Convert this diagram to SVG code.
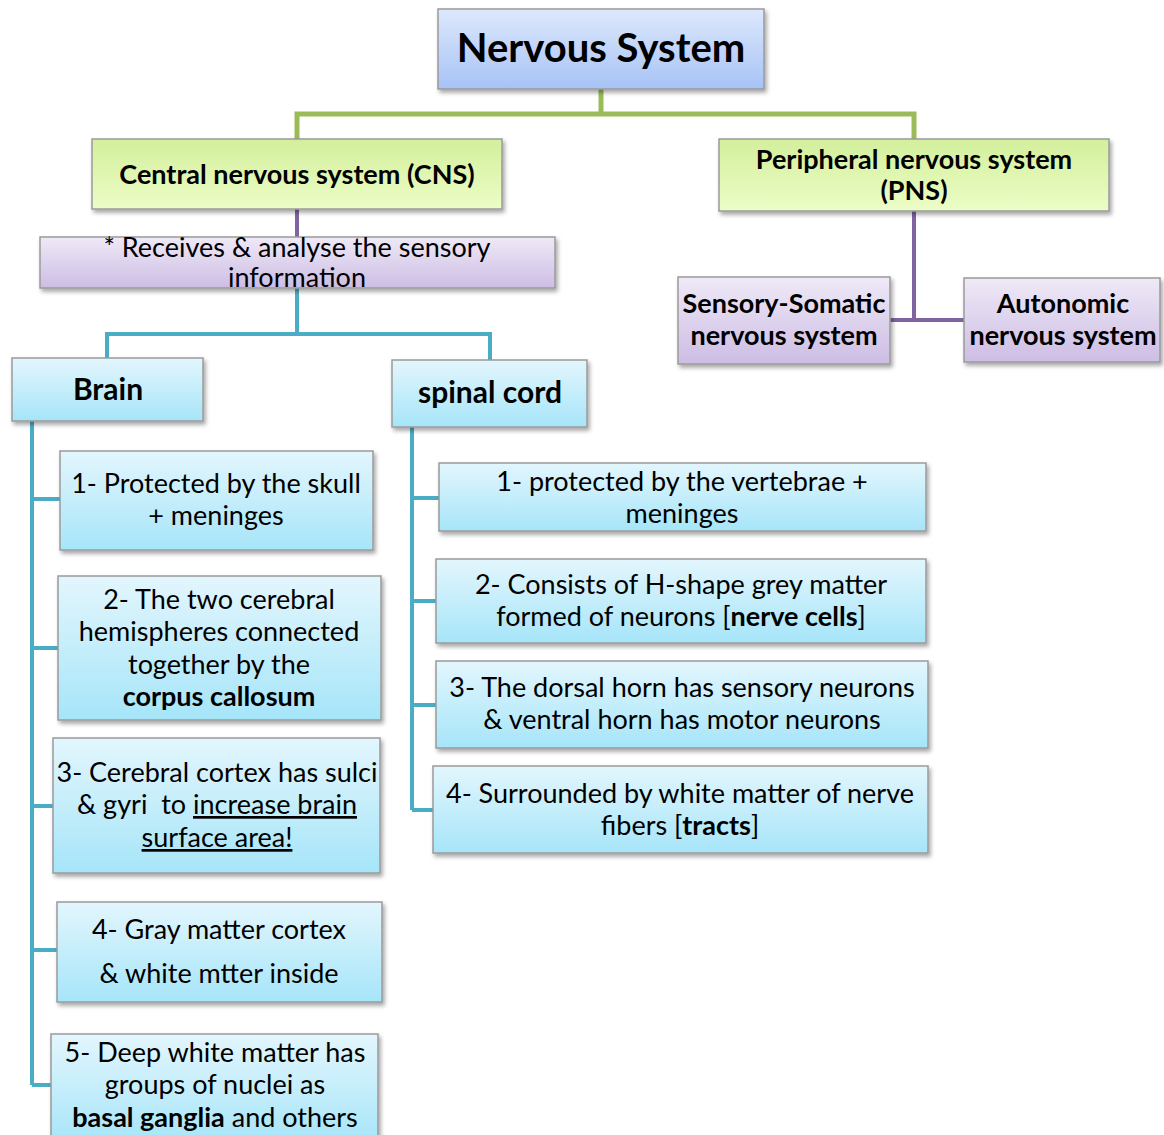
<svg xmlns="http://www.w3.org/2000/svg" width="1164" height="1135" viewBox="0 0 1164 1135">
<style>
text{font-family:Lato,"Open Sans","Liberation Sans",sans-serif;fill:#000;text-anchor:middle}
.t{font-size:27px}
.b{font-weight:bold}
.box{stroke:#9a9a9a;stroke-width:1.5;filter:url(#sh)}
.blue{fill:url(#gBlue)}
.green{fill:url(#gGreen)}
.purple{fill:url(#gPurple)}
.top{fill:url(#gTop)}
.cg{stroke:#9bbb59;stroke-width:5;fill:none}
.cp{stroke:#8064a2;stroke-width:4;fill:none}
.cb{stroke:#4bacc6;stroke-width:4;fill:none}
</style>
<defs>
<linearGradient id="gBlue" x1="0" y1="0" x2="0" y2="1"><stop offset="0" stop-color="#e3f6fd"/><stop offset="1" stop-color="#a6e5f9"/></linearGradient>
<linearGradient id="gGreen" x1="0" y1="0" x2="0" y2="1"><stop offset="0" stop-color="#d3ef9c"/><stop offset="1" stop-color="#ecfdc6"/></linearGradient>
<linearGradient id="gPurple" x1="0" y1="0" x2="0" y2="1"><stop offset="0" stop-color="#efe9f7"/><stop offset="1" stop-color="#cdbde4"/></linearGradient>
<linearGradient id="gTop" x1="0" y1="0" x2="0" y2="1"><stop offset="0" stop-color="#dde8fc"/><stop offset="1" stop-color="#a7c3f6"/></linearGradient>
<filter id="sh" x="-10%" y="-20%" width="120%" height="150%"><feDropShadow dx="2" dy="3" stdDeviation="2" flood-color="#000" flood-opacity="0.35"/></filter>
</defs>
<g id="connectors">
<path class="cg" d="M601 89V114M297 139V114H914V139"/>
<path class="cp" d="M297 209V237"/>
<path class="cp" d="M914 211V320M890 320H964"/>
<path class="cb" d="M297 288V334M107 358V334H490V360"/>
<path class="cb" d="M32 421V1085M32 499H60M32 648H58M32 806H53M32 950H57M32 1085H51"/>
<path class="cb" d="M412 427V810M412 498H439M412 601H436M412 705H436M412 810H433"/>
</g>
<g id="n-nervous"><rect class="box top" x="438" y="9" width="326" height="80"/><text class="b" x="601" y="62" font-size="40">Nervous System</text></g>
<g id="n-cns"><rect class="box green" x="92" y="139" width="410" height="70"/><text class="t b" x="297" y="184">Central nervous system (CNS)</text></g>
<g id="n-pns"><rect class="box green" x="719" y="139" width="390" height="72"/><text class="t b" x="914" y="169">Peripheral nervous system</text><text class="t b" x="914" y="200">(PNS)</text></g>
<g id="n-receives"><rect class="box purple" x="40" y="237" width="515" height="51"/><text class="t" x="297" y="257">* Receives &amp; analyse the sensory</text><text class="t" x="297" y="287">information</text></g>
<g id="n-sensory"><rect class="box purple" x="678" y="277" width="212" height="87"/><text class="t b" x="784" y="313">Sensory-Somatic</text><text class="t b" x="784" y="345">nervous system</text></g>
<g id="n-autonomic"><rect class="box purple" x="964" y="278" width="196" height="84"/><text class="t b" x="1063" y="313">Autonomic</text><text class="t b" x="1063" y="345">nervous system</text></g>
<g id="n-brain"><rect class="box blue" x="12" y="358" width="191" height="63"/><text class="b" x="108" y="400" font-size="30">Brain</text></g>
<g id="n-spinal"><rect class="box blue" x="392" y="360" width="195" height="67"/><text class="b" x="490" y="403" font-size="30">spinal cord</text></g>
<g id="n-b1"><rect class="box blue" x="60" y="451" width="313" height="99"/><text class="t" x="216" y="493">1- Protected by the skull</text><text class="t" x="216" y="525">+ meninges</text></g>
<g id="n-b2"><rect class="box blue" x="58" y="576" width="323" height="144"/><text class="t" x="219" y="609">2- The two cerebral</text><text class="t" x="219" y="641">hemispheres connected</text><text class="t" x="219" y="674">together by the</text><text class="t b" x="219" y="706">corpus callosum</text></g>
<g id="n-b3"><rect class="box blue" x="53" y="738" width="327" height="135"/><text class="t" x="217" y="782">3- Cerebral cortex has sulci</text><text class="t" x="217" y="814" style="white-space:pre">&amp; gyri  to <tspan text-decoration="underline">increase brain</tspan></text><text class="t" x="217" y="847" text-decoration="underline">surface area!</text></g>
<g id="n-b4"><rect class="box blue" x="57" y="902" width="325" height="100"/><text class="t" x="219" y="939">4- Gray matter cortex</text><text class="t" x="219" y="983">&amp; white mtter inside</text></g>
<g id="n-b5"><rect class="box blue" x="51" y="1034" width="327" height="110"/><text class="t" x="215" y="1062">5- Deep white matter has</text><text class="t" x="215" y="1094">groups of nuclei as</text><text class="t" x="215" y="1127"><tspan class="b">basal ganglia</tspan> and others</text></g>
<g id="n-s1"><rect class="box blue" x="439" y="463" width="487" height="68"/><text class="t" x="682" y="491">1- protected by the vertebrae +</text><text class="t" x="682" y="523">meninges</text></g>
<g id="n-s2"><rect class="box blue" x="436" y="559" width="490" height="84"/><text class="t" x="681" y="594">2- Consists of H-shape grey matter</text><text class="t" x="681" y="626">formed of neurons [<tspan class="b">nerve cells</tspan>]</text></g>
<g id="n-s3"><rect class="box blue" x="436" y="661" width="492" height="87"/><text class="t" x="682" y="697">3- The dorsal horn has sensory neurons</text><text class="t" x="682" y="729">&amp; ventral horn has motor neurons</text></g>
<g id="n-s4"><rect class="box blue" x="433" y="766" width="495" height="87"/><text class="t" x="680" y="803">4- Surrounded by white matter of nerve</text><text class="t" x="680" y="835">fibers [<tspan class="b">tracts</tspan>]</text></g>
</svg>
